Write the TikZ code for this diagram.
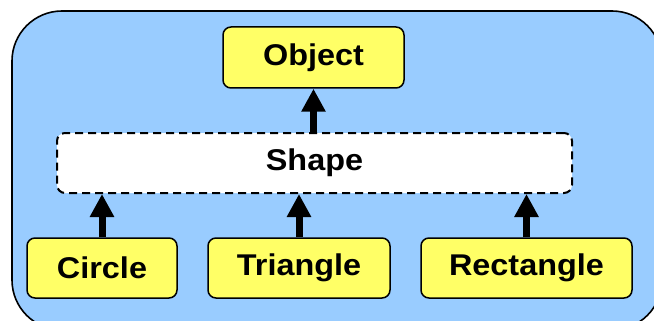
\documentclass[tikz,border=0pt]{standalone}
\usepackage{fontspec}
\setmainfont{Liberation Sans}
\newfontfamily\labelfont[FakeStretch=1.08]{Liberation Sans}
\usetikzlibrary{arrows.meta}
\definecolor{bgblue}{RGB}{153,204,255}
\definecolor{boxyellow}{RGB}{255,255,102}
\tikzset{
  classbox/.style={draw=black, line width=1.5pt, fill=boxyellow, rounded corners=8pt,
    inner sep=0pt, font=\labelfont\bfseries\fontsize{30}{34}\selectfont},
  abstractbox/.style={draw=black, line width=2pt, fill=white, rounded corners=8pt,
    dash pattern=on 8pt off 5pt, inner sep=0pt, font=\labelfont\bfseries\fontsize{30}{34}\selectfont},
  inherit/.style={line width=7pt, -{Triangle[width=23pt,length=23pt]}, shorten >=0pt},
  frame/.style={draw=black, line width=1.6pt, fill=bgblue, rounded corners=50pt}
}
\begin{document}
\begin{tikzpicture}[x=1pt,y=-1pt]
\useasboundingbox (0,0) rectangle (654,321);
\clip (0,0) rectangle (654,321);
\draw[frame] (12,11) rectangle (662,330);
\node[abstractbox, minimum width=515pt, minimum height=60pt] (shape) at (314.5,163) {Shape};
\node[classbox, minimum width=181pt, minimum height=61pt] (object) at (313.5,57.5) {Object};
\node[classbox, minimum width=150pt, minimum height=60pt] (circle) at (102,268) {Circle};
\node[classbox, minimum width=182pt, minimum height=60pt] (triangle) at (299,268) {Triangle};
\node[classbox, minimum width=211pt, minimum height=60pt] (rectangle) at (526.5,268) {Rectangle};
\draw[inherit] (object.south |- shape.north) -- (object.south);
\draw[inherit] (circle.north) -- (circle.north |- shape.south);
\draw[inherit] (triangle.north) -- (triangle.north |- shape.south);
\draw[inherit] (rectangle.north) -- (rectangle.north |- shape.south);
\end{tikzpicture}
\end{document}
